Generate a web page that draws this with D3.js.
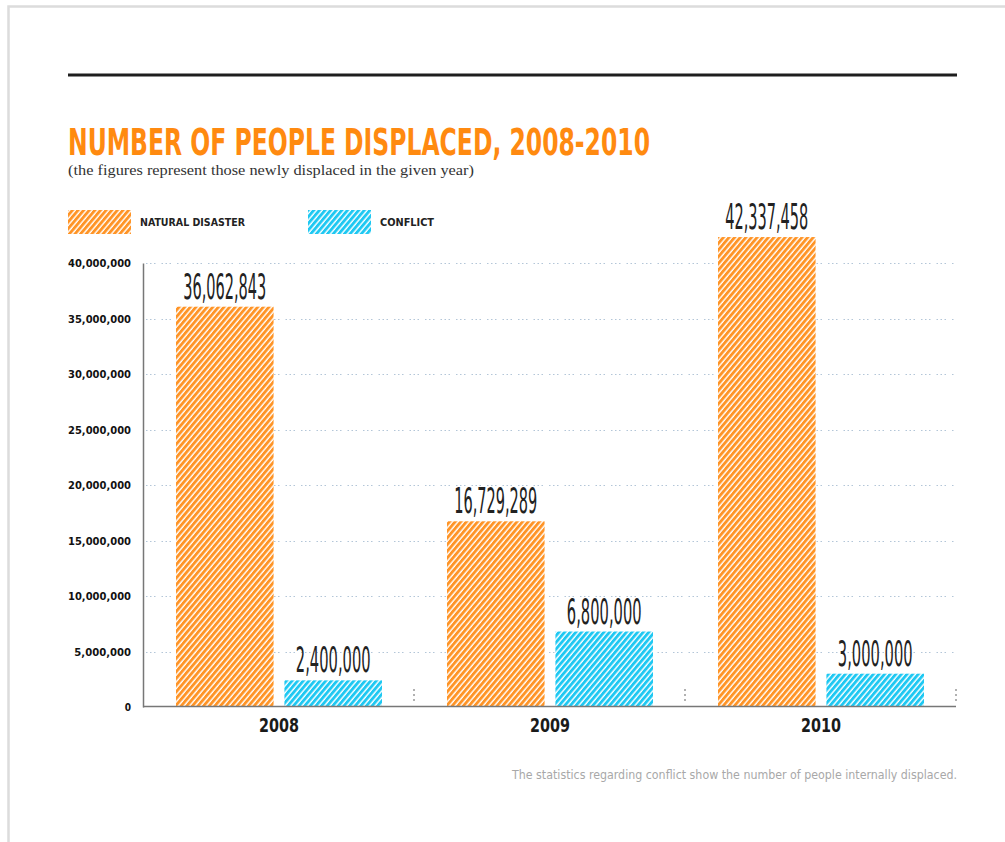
<!DOCTYPE html>
<html>
<head>
<meta charset="utf-8">
<script src="https://cdn.jsdelivr.net/npm/d3@7"></script>
<style>
  html, body { margin: 0; padding: 0; background: #fff; }
  svg { display: block; }
</style>
</head>
<body>
<script>
// ---- Data ----
const years = ["2008", "2009", "2010"];
const naturalDisaster = [36062843, 16729289, 42337458];
const conflict = [2400000, 6800000, 3000000];
const seriesNames = ["NATURAL DISASTER", "CONFLICT"];
const yTickValues = [0, 5000000, 10000000, 15000000, 20000000, 25000000, 30000000, 35000000, 40000000];
const titleText = "NUMBER OF PEOPLE DISPLACED, 2008-2010";
const subtitleText = "(the figures represent those newly displaced in the given year)";
const footText = "The statistics regarding conflict show the number of people internally displaced.";

const W = 1005, H = 842;
const ORANGE = "#ff9426", BLUE = "#1ec8f2";
const fmt = d3.format(",");

const svg = d3.select("body").append("svg").attr("width", W).attr("height", H);

// hatch patterns
const defs = svg.append("defs");
function hatch(id, color) {
  const p = defs.append("pattern").attr("id", id)
    .attr("patternUnits", "userSpaceOnUse")
    .attr("width", 4.3).attr("height", 8)
    .attr("patternTransform", "rotate(40)");
  p.append("rect").attr("width", 4.3).attr("height", 8).attr("fill", "#fff");
  p.append("rect").attr("width", 2.9).attr("height", 8).attr("fill", color);
}
hatch("hOrange", ORANGE);
hatch("hBlue", BLUE);
const fills = ["url(#hOrange)", "url(#hBlue)"];

// page border
svg.append("path").attr("d", `M8.5,${H} V6.5 H${W}`)
  .attr("fill", "none").attr("stroke", "#dcdcdc").attr("stroke-width", 2.5);

// top rule
svg.append("line").attr("x1", 68).attr("x2", 957).attr("y1", 75).attr("y2", 75)
  .attr("stroke", "#1e1e1e").attr("stroke-width", 3);

// title
svg.append("text").attr("x", 68).attr("y", 155)
  .attr("font-family", "DejaVu Sans Condensed, DejaVu Sans").attr("font-weight", "bold")
  .attr("font-size", 38).attr("fill", "#ff8a10")
  .attr("textLength", 582).attr("lengthAdjust", "spacingAndGlyphs")
  .text(titleText);

svg.append("text").attr("x", 68).attr("y", 175)
  .attr("font-family", "Liberation Serif, serif")
  .attr("font-size", 14).attr("fill", "#333")
  .attr("textLength", 406).attr("lengthAdjust", "spacingAndGlyphs")
  .text(subtitleText);

// legend
const legendX = [68, 308];
const legendTextLen = [105, 54];
seriesNames.forEach((name, i) => {
  svg.append("rect").attr("x", legendX[i]).attr("y", 210).attr("width", 63).attr("height", 24)
    .attr("fill", fills[i]);
  svg.append("text").attr("x", legendX[i] + 72).attr("y", 226)
    .attr("font-family", "DejaVu Sans Condensed, DejaVu Sans").attr("font-weight", "bold")
    .attr("font-size", 10).attr("fill", "#222")
    .attr("textLength", legendTextLen[i]).attr("lengthAdjust", "spacingAndGlyphs")
    .text(name);
});

// scales
const plotLeft = 143, plotRight = 956, plotTop = 263, plotBottom = 707;
const y = d3.scaleLinear().domain([0, 40000000]).range([plotBottom, plotTop]);
const x0 = d3.scaleBand().domain(years).range([plotLeft, plotRight]).padding(0);
const x1 = d3.scaleBand().domain(["n", "c"]).range([33, 239]).paddingInner(0.1).paddingOuter(0);

// gridlines
const grid = svg.append("g");
grid.selectAll("line").data(yTickValues.filter(d => d > 0)).join("line")
  .attr("x1", plotLeft + 3).attr("x2", plotRight)
  .attr("y1", d => Math.round(y(d)) + 0.5).attr("y2", d => Math.round(y(d)) + 0.5)
  .attr("stroke", "#b3c6d8").attr("stroke-width", 1.2)
  .attr("stroke-dasharray", "1.5,2.5,1.5,2.5,1.5,6");

// y axis
const yAxis = d3.axisLeft(y).tickValues(yTickValues).tickSize(0).tickPadding(12).tickFormat(fmt);
const gy = svg.append("g").attr("transform", `translate(${plotLeft},0)`).call(yAxis);
gy.select(".domain").attr("stroke", "#777").attr("stroke-width", 1.5);
gy.selectAll("text")
  .attr("font-family", "DejaVu Sans Condensed, DejaVu Sans").attr("font-weight", "bold")
  .attr("font-size", 11).attr("fill", "#111")
  .attr("dy", "0.35em")
  .each(function(d) {
    const s = fmt(d);
    d3.select(this).attr("textLength", s.length * 6.3).attr("lengthAdjust", "spacingAndGlyphs");
  });

// bars
const groups = svg.append("g").selectAll("g").data(years).join("g")
  .attr("transform", d => `translate(${x0(d)},0)`);
const rows = years.map((yr, i) => [
  { key: "n", value: naturalDisaster[i], fill: fills[0] },
  { key: "c", value: conflict[i], fill: fills[1] }
]);
groups.each(function(yr, i) {
  const g = d3.select(this);
  g.selectAll("rect").data(rows[i]).join("rect")
    .attr("x", d => x1(d.key)).attr("width", x1.bandwidth())
    .attr("y", d => y(d.value)).attr("height", d => y(0) - y(d.value))
    .attr("fill", d => d.fill);
  g.selectAll("text.val").data(rows[i]).join("text").attr("class", "val")
    .attr("x", d => x1(d.key) + x1.bandwidth() / 2)
    .attr("y", d => y(d.value) - 8)
    .attr("text-anchor", "middle")
    .attr("font-family", "DejaVu Sans Condensed, DejaVu Sans")
    .attr("font-size", 35).attr("fill", "#222")
    .attr("textLength", d => fmt(d.value).length * 8.3)
    .attr("lengthAdjust", "spacingAndGlyphs")
    .text(d => fmt(d.value));
});

// baseline
svg.append("line").attr("x1", plotLeft).attr("x2", plotRight)
  .attr("y1", plotBottom - 0.5).attr("y2", plotBottom - 0.5)
  .attr("stroke", "#777").attr("stroke-width", 1.5);

// group separators
svg.append("g").selectAll("line").data(years).join("line")
  .attr("x1", d => x0(d) + x0.bandwidth()).attr("x2", d => x0(d) + x0.bandwidth())
  .attr("y1", 689).attr("y2", 703)
  .attr("stroke", "#888").attr("stroke-width", 1.3).attr("stroke-dasharray", "2,3");

// x labels
const xAxis = d3.axisBottom(x0).tickSize(0).tickPadding(12);
const gx = svg.append("g").attr("transform", `translate(0,${plotBottom})`).call(xAxis);
gx.select(".domain").remove();
gx.selectAll(".tick").attr("transform", d => `translate(${x0(d) + x1("n") + (x1("c") + x1.bandwidth() - x1("n")) / 2},0)`);
gx.selectAll("text")
  .attr("font-family", "DejaVu Sans Condensed, DejaVu Sans").attr("font-weight", "bold")
  .attr("font-size", 19).attr("fill", "#1a1a1a")
  .attr("dy", "0.71em")
  .attr("textLength", 40).attr("lengthAdjust", "spacingAndGlyphs");

// footer
svg.append("text").attr("x", 957).attr("y", 779).attr("text-anchor", "end")
  .attr("font-family", "DejaVu Sans Condensed, DejaVu Sans")
  .attr("font-size", 11.5).attr("fill", "#a8a8a8")
  .attr("textLength", 445).attr("lengthAdjust", "spacingAndGlyphs")
  .text(footText);
</script>
</body>
</html>
